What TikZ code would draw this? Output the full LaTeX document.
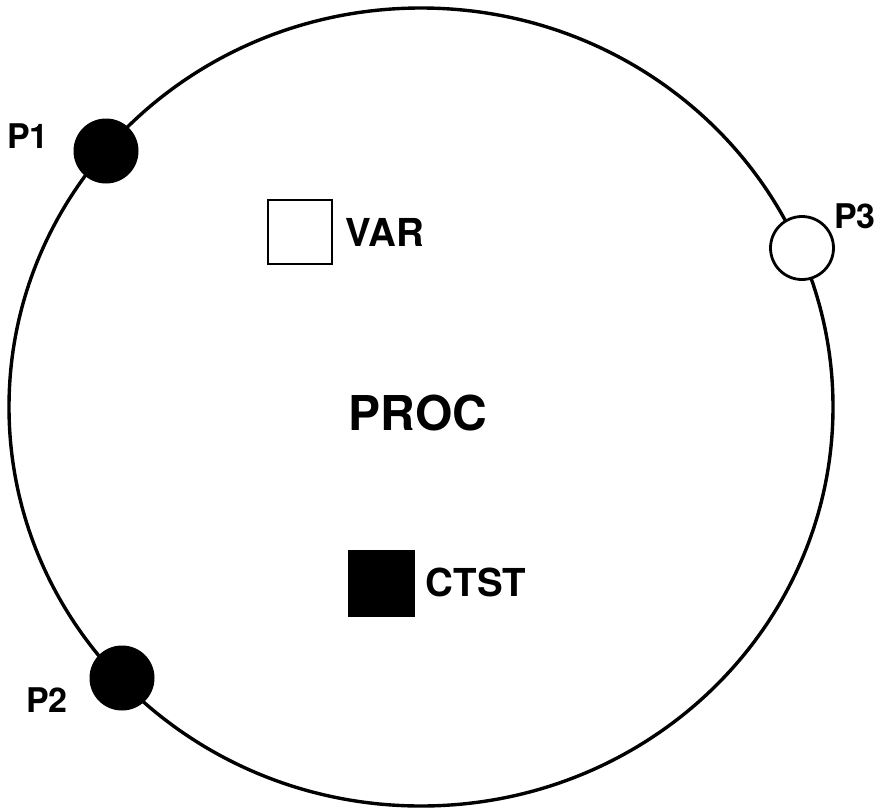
\documentclass[tikz,border=0pt]{standalone}
\usepackage{fontspec}
\setmainfont{TeX Gyre Heros}
\usetikzlibrary{shapes.geometric}
\begin{document}
\begin{tikzpicture}[x=1pt,y=-1pt,
  lbl/.style={inner sep=0pt, font=\bfseries\fontsize{34}{38}\selectfont},
  midlbl/.style={inner sep=0pt, font=\bfseries\fontsize{38.5}{42}\selectfont},
  biglbl/.style={inner sep=0pt, font=\bfseries\fontsize{48}{52}\selectfont},
  portfull/.style={circle, fill=black, draw=black, line width=1pt, inner sep=0pt, minimum size=64pt},
  portopen/.style={circle, fill=white, draw=black, line width=2.8pt, inner sep=0pt, minimum size=63pt},
  varbox/.style={rectangle, draw=black, fill=white, line width=2.6pt, inner sep=0pt, minimum size=64pt},
  ctstbox/.style={rectangle, fill=black, inner sep=0pt, minimum size=67pt}]
\useasboundingbox (0,0) rectangle (884,809);
\node[ellipse, draw=black, line width=3.4pt, inner sep=0pt, minimum width=824pt, minimum height=798pt] (proc) at (421,407) {};
\node[portfull] (p1) at (106,151) {};
\node[portfull] (p2) at (122,678) {};
\node[portopen] (p3) at (802,248) {};
\node[lbl] (p1l) at (28,136) {P1};
\node[lbl] (p2l) at (47,700) {P2};
\node[lbl] (p3l) at (855,216) {P3};
\node[varbox] (var) at (300,232) {};
\node[midlbl] (varl) at (385,232) {VAR};
\node[ctstbox] (ctst) at (381,583) {};
\node[midlbl] (ctstl) at (476,582) {CTST};
\node[biglbl] (procl) at (418,413) {PROC};
\end{tikzpicture}
\end{document}
